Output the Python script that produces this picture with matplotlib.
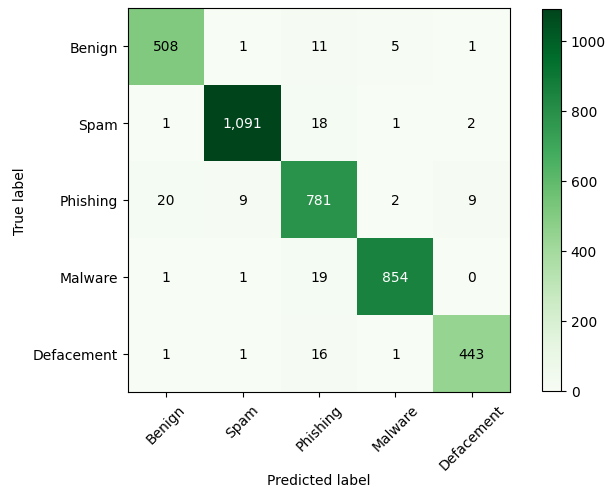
import numpy as np
import matplotlib
matplotlib.use('Agg')
import matplotlib.pyplot as plt

classes = ['Benign', 'Spam', 'Phishing', 'Malware', 'Defacement']
cm = np.array([[508, 1, 11, 5, 1],
               [1, 1091, 18, 1, 2],
               [20, 9, 781, 2, 9],
               [1, 1, 19, 854, 0],
               [1, 1, 16, 1, 443]])

def plot_cm(cm, classes):
    fig = plt.figure(figsize=(6.11, 4.89), dpi=100)
    ax = fig.add_axes([128 / 611, 1 - 393 / 489, 382 / 611, 384 / 489])
    cax = fig.add_axes([542 / 611, 1 - 392 / 489, 19 / 611, 382 / 489])
    im = ax.imshow(cm, interpolation='nearest', cmap='Greens', aspect='auto')
    fig.colorbar(im, cax=cax)
    ticks = np.arange(len(classes))
    ax.set_xticks(ticks)
    ax.set_xticklabels(classes, rotation=45)
    ax.set_yticks(ticks)
    ax.set_yticklabels(classes)
    # white text on the dark cells
    thresh = cm.max() / 2.
    for i in range(cm.shape[0]):
        for j in range(cm.shape[1]):
            ax.text(j, i, '{:,}'.format(cm[i, j]), ha='center', va='center',
                    color='white' if cm[i, j] > thresh else 'black')
    ax.set_ylabel('True label')
    ax.set_xlabel('Predicted label', labelpad=0.5)
    fig.savefig('out.png', dpi=100)

if __name__ == '__main__':
    plot_cm(cm, classes)
